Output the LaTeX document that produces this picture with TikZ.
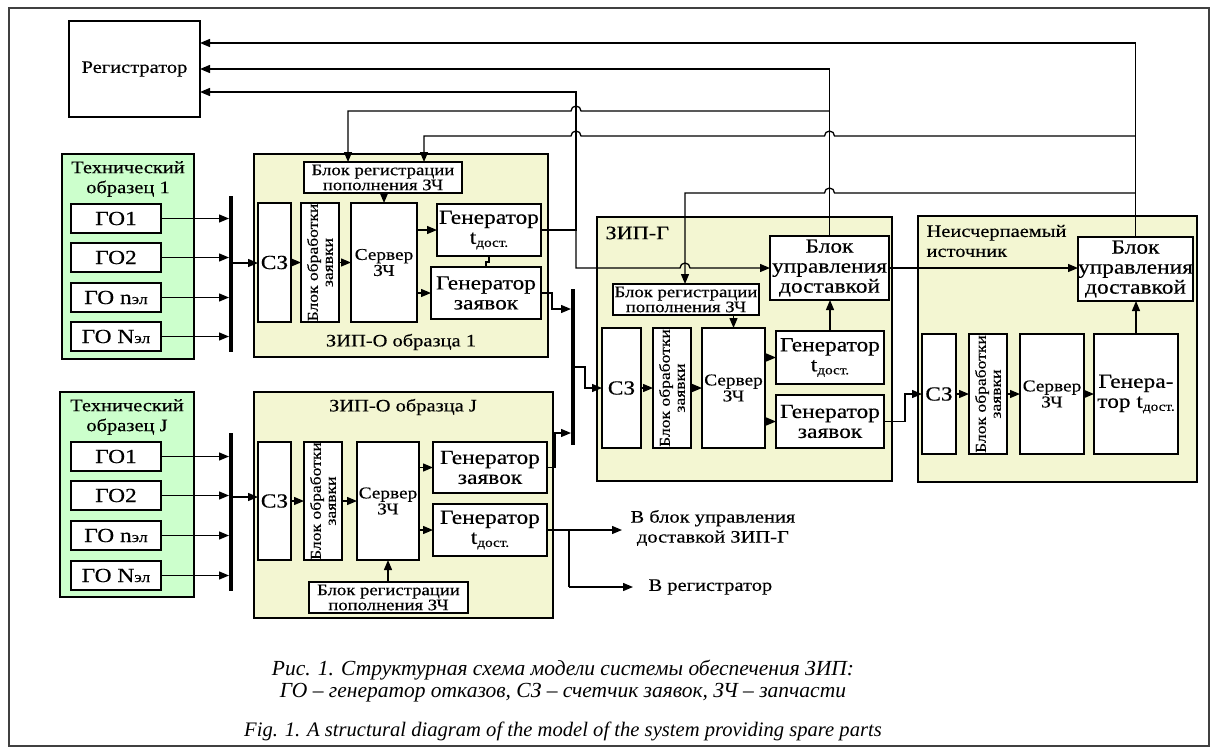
\documentclass[tikz,border=0pt]{standalone}
\usepackage{fontspec}
\setmainfont{Liberation Serif}[FakeStretch=1.17,FakeBold=0.4]
\newfontfamily\capfont{Liberation Serif}
\usetikzlibrary{arrows.meta}
\definecolor{zipc}{RGB}{243,246,210}
\definecolor{techc}{RGB}{204,255,204}
\newcommand\fA{\fontsize{20}{20}\selectfont}
\newcommand\fB{\fontsize{17.5}{20}\selectfont}
\newcommand\fC{\fontsize{16}{12}\selectfont}
\newcommand\fD{\fontsize{16.5}{16}\selectfont}
\newcommand\fE{\fontsize{15}{15}\selectfont}
\newcommand\fS{\fontsize{13}{13}\selectfont}
\newcommand\Gt{Генератор\\t\raisebox{-3pt}{\fS дост.}}
\newcommand\rbox[7][]{\node[box,#1,minimum width={(#5-#3)*1pt},minimum height={(#6-#4)*1pt}] (#2) at ({(#3+#5)/2},{(#4+#6)/2}) {#7};}
\begin{document}
\begin{tikzpicture}[x=1pt,y=-1pt,
  box/.style={draw, fill=white, line width=1.3pt, inner sep=0pt, outer sep=0pt, align=center},
  zip/.style={fill=zipc},
  tech/.style={fill=techc},
  arr/.style={line width=1.3pt, -{Triangle[length=10pt,width=8pt]}},
  ln/.style={line width=1.3pt},
  bus/.style={line width=4pt},
  capA/.style={font={\capfont\itshape\fontsize{21.5}{23}\selectfont}},
  capB/.style={font={\capfont\itshape\fontsize{20.6}{23}\selectfont}}]
\useasboundingbox (0,0) rectangle (1215,753);
\rbox[draw=black!75, fill=white]{frame}{9}{8}{1209}{746}{}
% registrar
\rbox[font=\fB]{reg}{69}{21}{200}{117}{Регистратор}
% containers
\rbox[tech]{tech1}{62}{154}{194}{359}{}
\rbox[tech]{techJ}{60}{392}{194}{597}{}
\rbox[zip]{zo1}{254}{154}{548}{357}{}
\rbox[zip]{zoJ}{254}{392}{553}{618}{}
\rbox[zip]{zg}{597}{217}{892}{481}{}
\rbox[zip]{nn}{918}{216}{1197}{482}{}
% titles
\node[font=\fB, align=center] (tech1t) at (128,179) {Технический\\образец 1};
\node[font=\fB, align=center] (techJt) at (127,417) {Технический\\образец J};
\node[font=\fB] (zo1t) at (401,342) {ЗИП-О образца 1};
\node[font=\fB] (zoJt) at (403,407) {ЗИП-О образца J};
\node[font=\fontsize{19}{20}\selectfont, anchor=west] (zgt) at (602,233) {ЗИП-Г};
\node[font=\fB, align=left, anchor=west] (nnt) at (923,241) {Неисчерпаемый\\источник};
% GO boxes 1
\rbox[font=\fA]{go11}{71}{204}{161}{233}{ГО1}
\rbox[font=\fA]{go12}{71}{243}{161}{272}{ГО2}
\rbox[font=\fA]{go13}{71}{283}{161}{312}{ГО n{\fE эл}}
\rbox[font=\fA]{go14}{71}{322}{161}{351}{ГО N{\fE эл}}
% GO boxes J
\rbox[font=\fA]{goJ1}{71}{442}{161}{471}{ГО1}
\rbox[font=\fA]{goJ2}{71}{481}{161}{510}{ГО2}
\rbox[font=\fA]{goJ3}{71}{521}{161}{550}{ГО n{\fE эл}}
\rbox[font=\fA]{goJ4}{71}{561}{161}{590}{ГО N{\fE эл}}
% ZIP-O 1
\rbox[font=\fC]{br1}{304}{162}{462}{193}{Блок регистрации\\пополнения ЗЧ}
\rbox[font=\fA]{sz1}{258}{203}{291}{322}{СЗ}
\rbox{bo1}{301}{203}{339}{322}{}
\node[font=\fE, rotate=90, align=center] (bo1t) at (bo1.center) {Блок обработки\\заявки};
\rbox[font=\fD]{sv1}{351}{203}{417}{322}{Сервер\\ЗЧ}
\rbox[font=\fA]{gt1}{437}{204}{541}{256}{\Gt}
\rbox[font=\fA]{gz1}{431}{267}{541}{319}{Генератор\\заявок}
% ZIP-O J
\rbox[font=\fA]{szJ}{258}{442}{291}{560}{СЗ}
\rbox{boJ}{304}{442}{342}{560}{}
\node[font=\fE, rotate=90, align=center] (boJt) at (boJ.center) {Блок обработки\\заявки};
\rbox[font=\fD]{svJ}{357}{442}{419}{560}{Сервер\\ЗЧ}
\rbox[font=\fA]{gzJ}{433}{442}{547}{493}{Генератор\\заявок}
\rbox[font=\fA]{gtJ}{433}{504}{547}{556}{\Gt}
\rbox[font=\fC]{brJ}{309}{582}{468}{613}{Блок регистрации\\пополнения ЗЧ}
% ZIP-G
\rbox[font=\fC]{brG}{613}{284}{759}{315}{Блок регистрации\\пополнения ЗЧ}
\rbox[font=\fA]{szG}{602}{328}{641}{448}{СЗ}
\rbox{boG}{653}{328}{691}{448}{}
\node[font=\fE, rotate=90, align=center] (boGt) at (boG.center) {Блок обработки\\заявки};
\rbox[font=\fD]{svG}{702}{328}{765}{448}{Сервер\\ЗЧ}
\rbox[font=\fA]{gtG}{776}{331}{884}{384}{\Gt}
\rbox[font=\fA]{gzG}{776}{395}{884}{448}{Генератор\\заявок}
\rbox[font=\fA]{buG}{770}{236}{889}{300}{Блок\\управления\\доставкой}
% Neischerpaemy
\rbox[font=\fA]{szN}{922}{334}{956}{454}{СЗ}
\rbox{boN}{969}{334}{1007}{454}{}
\node[font=\fE, rotate=90, align=center] (boNt) at (boN.center) {Блок обработки\\заявки};
\rbox[font=\fD]{svN}{1020}{334}{1084}{454}{Сервер\\ЗЧ}
\rbox[font=\fA]{gN}{1094}{334}{1178}{454}{Генера-\\тор t\raisebox{-3pt}{\fS дост.}}
\rbox[font=\fA]{buN}{1078}{237}{1193}{301}{Блок\\управления\\доставкой}
% buses
\coordinate (b1t) at (231,196); \coordinate (b1b) at (231,352);
\coordinate (bJt) at (231,433); \coordinate (bJb) at (231,591);
\coordinate (b2t) at (573,289); \coordinate (b2bot) at (573,445);
\draw[bus] (b1t) -- (b1b);
\draw[bus] (bJt) -- (bJb);
\draw[bus] (b2t) -- (b2bot);
% GO -> bus
\foreach \g in {go11,go12,go13,go14}{\draw[arr, shorten >=2pt] (\g.east) -- (\g.east -| b1t);}
\foreach \g in {goJ1,goJ2,goJ3,goJ4}{\draw[arr, shorten >=2pt] (\g.east) -- (\g.east -| bJt);}
\coordinate (b1o) at (231,263);
\coordinate (bJo) at (231,497);
\draw[arr] (b1o) -- (b1o -| sz1.west);
\draw[arr] (bJo) -- (bJo -| szJ.west);
% ZIP-O 1 internal
\draw[arr] (sz1.east) -- (sz1.east -| bo1.west);
\draw[arr] (bo1.east) -- (bo1.east -| sv1.west);
\draw[arr] (sv1.east |- gt1.west) -- (gt1.west);
\draw[arr] (sv1.east |- gz1.west) -- (gz1.west);
\draw[arr] (sv1.north |- br1.south) -- (sv1.north);
\draw[ln] (gt1.south) -- ++(0,6) -| (gz1.north);
% ZIP-O J internal
\draw[arr] (szJ.east) -- (szJ.east -| boJ.west);
\draw[arr] (boJ.east) -- (boJ.east -| svJ.west);
\draw[arr] (svJ.east |- gzJ.west) -- (gzJ.west);
\draw[arr] (svJ.east |- gtJ.west) -- (gtJ.west);
\draw[arr] (brJ.north -| svJ.south) -- (svJ.south);
% ZIP-G internal
\draw[arr] (szG.east) -- (szG.east -| boG.west);
\draw[arr] (boG.east) -- (boG.east -| svG.west);
\draw[arr] (svG.east |- gtG.west) -- (gtG.west);
\draw[arr] (svG.east |- gzG.west) -- (gzG.west);
\draw[arr] (svG.north |- brG.south) -- (svG.north);
\draw[arr] (gtG.north) -- (gtG.north |- buG.south);
% N internal
\draw[arr] (szN.east) -- (szN.east -| boN.west);
\draw[arr] (boN.east) -- (boN.east -| svN.west);
\draw[arr] (svN.east) -- (svN.east -| gN.west);
\draw[arr] (gN.north) -- (gN.north |- buN.south);
% to buses
\coordinate (b2a) at (573,309);
\coordinate (b2b) at (573,433);
\coordinate (b2o) at (573,367);
\draw[arr, shorten >=2pt] (gz1.east) -- ++(11,0) |- (b2a);
\draw[arr, shorten >=2pt] (gzJ.east) -- ++(8,0) |- (b2b);
\draw[arr] (b2o) -- ++(12,0) |- (szG.west);
\draw[arr] (gzG.east) -- ++(21,0) |- (szN.west);
\draw[arr] (buG.east) -- (buG.east -| buN.west);
% outputs of ZIP-O J
\coordinate (o1) at (622,530);
\coordinate (o2) at (633,587);
\coordinate (jJ) at (569,530);
\draw[arr] (gtJ.east) -- (o1);
\draw[ln] (jJ) -- (jJ |- o2);
\draw[arr] (jJ |- o2) -- (o2);
\node[font=\fB, align=center, anchor=west] (lblA) at (627,528) {В блок управления\\доставкой ЗИП-Г};
\node[font=\fB, anchor=west] (lblB) at (645,587) {В регистратор};
% top connections
\coordinate (vN) at (1135.5,43);
\coordinate (vG) at (829.5,69);
\coordinate (v1) at (576,92);
\coordinate (v1b) at (576,268);
\draw[arr] (buN.north) -- (vN) -- (vN -| reg.east);
\draw[arr] (buG.north) -- (vG) -- (vG -| reg.east);
\draw[arr] (gt1.east) -- (gt1.east -| v1) -- (v1) -- (v1 -| reg.east);
\draw[arr] (gt1.east -| v1) -- (v1b) -- (680,268) arc[start angle=180,end angle=0,radius=5pt] -- (v1b -| buG.west);
\coordinate (h1) at (829.5,111); \coordinate (h1e) at (348,111);
\draw[arr] (h1) -- (581,111) arc[start angle=0,end angle=180,radius=5pt] -- (h1e) -- (h1e |- br1.north);
\coordinate (h2) at (1135.5,136); \coordinate (h2e) at (424,136);
\draw[arr] (h2) -- (834.5,136) arc[start angle=0,end angle=180,radius=5pt] -- (581,136) arc[start angle=0,end angle=180,radius=5pt] -- (h2e) -- (h2e |- br1.north);
\coordinate (h3) at (1135.5,193); \coordinate (h3e) at (685,193);
\draw[arr] (h3) -- (834.5,193) arc[start angle=0,end angle=180,radius=5pt] -- (h3e) -- (h3e |- brG.north);
% captions
\node[capA] (cap1) at (563,670) {Рис. 1. Структурная схема модели системы обеспечения ЗИП:};
\node[capA] (cap2) at (563,693) {ГО – генератор отказов, СЗ – счетчик заявок, ЗЧ – запчасти};
\node[capB] (cap3) at (563,731) {Fig. 1. A structural diagram of the model of the system providing spare parts};
\end{tikzpicture}
\end{document}
